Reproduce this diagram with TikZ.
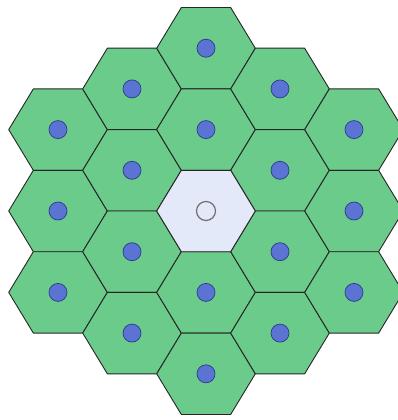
\documentclass[tikz,border=0pt]{standalone}
\usepackage{xcolor}
\usepackage{tikz}
\definecolor{cellGreen}{HTML}{6BCB8B}
\definecolor{homeBg}{HTML}{E3E9F8}
\definecolor{dotBlue}{HTML}{5B74D4}
\definecolor{dotEdge}{HTML}{2B3A86}
\definecolor{edgeDark}{HTML}{262626}
\definecolor{ringGray}{HTML}{707070}
\tikzset{
    hexCell/.style={draw=edgeDark, fill=cellGreen, line width=0.9pt, line join=round},
    hexHome/.style={draw=edgeDark, fill=homeBg, line width=0.9pt, line join=round},
    siteDot/.style={draw=dotEdge, fill=dotBlue, line width=0.7pt},
    homeDot/.style={draw=ringGray, fill=homeBg, line width=1.2pt},
}
\newcommand{\hexR}{49.3}
\newcommand{\hexH}{40.7}

\begin{document}
\begin{tikzpicture}[x=1pt,y=-1pt]
\useasboundingbox (0,0) rectangle (398,420);
\clip (0,0) rectangle (398,420);

% ---------------- OUTER CELLS ----------------
\foreach \col/\rows in {-2/{-1,0,1}, -1/{-1.5,-0.5,0.5,1.5}, 0/{-2,-1,1,2},
                        1/{-1.5,-0.5,0.5,1.5}, 2/{-1,0,1}} {
  \foreach \row in \rows {
    \begin{scope}[shift={({206+\col*74},{211+\row*81.4})}]
      \draw[hexCell] (-\hexR,0) -- (-\hexR/2,-\hexH) -- (\hexR/2,-\hexH)
        -- (\hexR,0) -- (\hexR/2,\hexH) -- (-\hexR/2,\hexH) -- cycle;
      \draw[siteDot] (0,0) circle[radius=9];
    \end{scope}
  }
}

% ---------------- HOME CELL ----------------
\begin{scope}[shift={(206,211)}]
  \draw[hexHome] (-\hexR,0) -- (-\hexR/2,-\hexH) -- (\hexR/2,-\hexH)
    -- (\hexR,0) -- (\hexR/2,\hexH) -- (-\hexR/2,\hexH) -- cycle;
  \draw[homeDot] (0,0) circle[radius=9.5];
\end{scope}

\end{tikzpicture}
\end{document}
